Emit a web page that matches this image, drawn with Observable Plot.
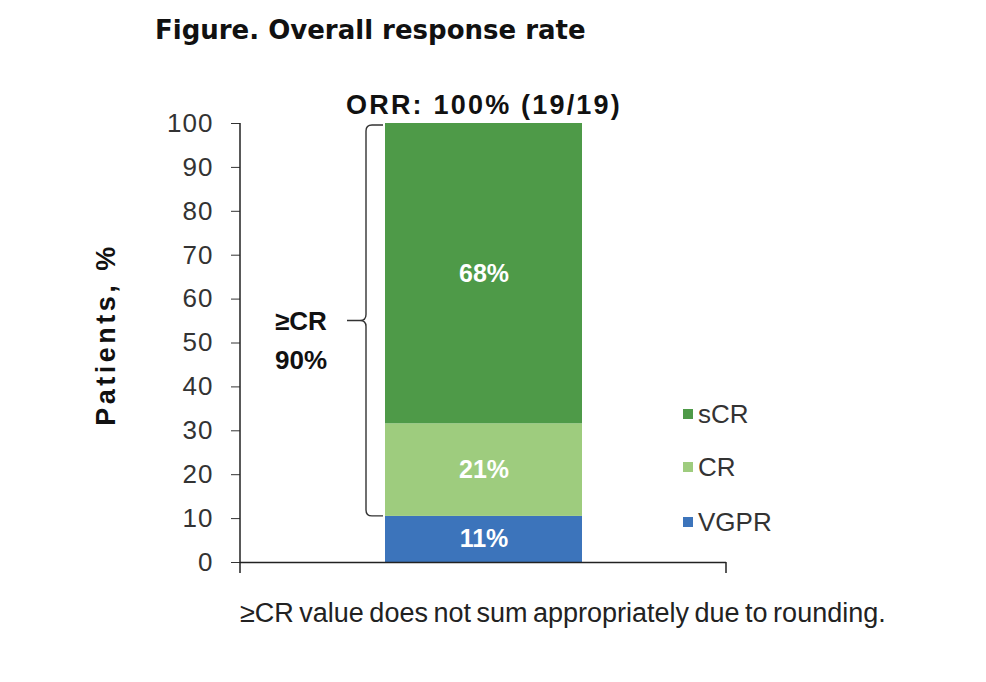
<!DOCTYPE html>
<html>
<head>
<meta charset="utf-8">
<script src="https://cdn.jsdelivr.net/npm/d3@7"></script>
<script src="https://cdn.jsdelivr.net/npm/@observablehq/plot@0.6"></script>
<style>
  html, body { margin: 0; padding: 0; background: #fff; }
  #wrap { position: relative; width: 986px; height: 682px; overflow: hidden; }
  #title { position: absolute; left: 155px; top: 15px; font-family: "DejaVu Sans", Verdana, sans-serif; font-weight: bold; font-size: 26px; letter-spacing: 0px; color: #111; white-space: nowrap; }
  #chart { position: absolute; left: 0; top: 70px; }
  #note { position: absolute; left: 240px; top: 598px; font-family: "Liberation Sans", Arial, sans-serif; font-size: 27px; word-spacing: -2px; color: #222; white-space: nowrap; }
</style>
</head>
<body>
<div id="wrap">
  <div id="title">Figure. Overall response rate</div>
  <div id="chart"></div>
  <div id="note">≥CR value does not sum appropriately due to rounding.</div>
</div>
<script>
// ---- data ----
const group = "All";
const categories = ["VGPR", "CR", "sCR"];
const values = [10.5, 21.1, 68.4];
const labels = ["11%", "21%", "68%"];
const colors = ["#3C74BB", "#9ECC7E", "#4E9A48"];
const yTicks = [0, 10, 20, 30, 40, 50, 60, 70, 80, 90, 100];
const legendOrder = ["sCR", "CR", "VGPR"];
const orrLabel = "ORR: 100% (19/19)";
const bracketLabel = ["≥CR", "90%"];
const bracketFrom = 10.5, bracketTo = 100;

const data = categories.map((c, i) => ({group, category: c, value: values[i], label: labels[i]}));

const W = 986, H = 530, ML = 240, MR = 260, MT = 53, MB = 38;
const FONT = "'Liberation Sans', Arial, sans-serif";

const chart = Plot.plot({
  width: W, height: H,
  marginTop: MT, marginBottom: MB, marginLeft: ML, marginRight: MR,
  x: {domain: [group], padding: 0.4235, axis: null},
  y: {domain: [0, 100]},
  color: {domain: categories, range: colors},
  style: {fontFamily: FONT, color: "#333", background: "white", overflow: "visible"},
  marks: [
    Plot.barY(data, {x: "group", y: "value", fill: "category"}),
    Plot.text(data, Plot.stackY({x: "group", y: "value", text: "label", fill: "white", fontWeight: "bold", fontSize: 25})),
    Plot.axisY({ticks: yTicks, tickSize: 9, tickPadding: 18, label: null, fontSize: 26, stroke: "#333", fill: "#333"}),
    Plot.ruleY([0], {stroke: "#222", strokeWidth: 1.5}),
    Plot.text([orrLabel], {x: () => group, y: () => 100, text: d => d, dy: -18, fontWeight: "bold", fontSize: 27, fill: "#111"})
  ]
});
document.getElementById("chart").appendChild(chart);

const svg = d3.select(chart);
// letter spacing tweaks
svg.selectAll("g[aria-label='y-axis tick label'] text").attr("letter-spacing", 1);
svg.selectAll("g[aria-label='text']").filter((d, i, n) => n[i].textContent === orrLabel).attr("letter-spacing", 2.2);

const ys = chart.scale("y"), xs = chart.scale("x");
const bx = xs.apply(group), bw = xs.bandwidth;
const yv = v => ys.apply(v);

// axis lines
svg.append("line").attr("x1", ML).attr("x2", ML).attr("y1", yv(100)).attr("y2", yv(0) + 11)
  .attr("stroke", "#222").attr("stroke-width", 1.5);
svg.append("line").attr("x1", W - MR).attr("x2", W - MR).attr("y1", yv(0)).attr("y2", yv(0) + 11)
  .attr("stroke", "#222").attr("stroke-width", 1.5);

// curly bracket
const bxL = bx - 2, vx = bx - 19, tipx = bx - 38;
const yt = yv(bracketTo) + 2, yb = yv(bracketFrom), ym = (yt + yb) / 2;
const r = 6;
const path = `M${bxL},${yt} H${vx + r} Q${vx},${yt} ${vx},${yt + r} V${ym - r} Q${vx},${ym} ${vx - r},${ym} H${tipx} M${vx - r},${ym} Q${vx},${ym} ${vx},${ym + r} V${yb - r} Q${vx},${yb} ${vx + r},${yb} H${bxL}`;
svg.append("path").attr("d", path).attr("fill", "none").attr("stroke", "#333").attr("stroke-width", 1.4);
const bl = svg.append("text").attr("font-weight", "bold").attr("font-size", 26).attr("fill", "#111")
  .attr("text-anchor", "middle").attr("font-family", FONT);
bl.append("tspan").attr("x", tipx - 46).attr("y", ym + 10).text(bracketLabel[0]);
bl.append("tspan").attr("x", tipx - 46).attr("y", ym + 49).text(bracketLabel[1]);

// y label
svg.append("text").attr("transform", `translate(115,${(yv(0) + yv(100)) / 2 - 8}) rotate(-90)`)
  .attr("text-anchor", "middle").attr("font-weight", "bold").attr("font-size", 27).attr("letter-spacing", 3.5)
  .attr("fill", "#111").attr("font-family", FONT).text("Patients, %");

// legend
const legY = {sCR: 344, CR: 397, VGPR: 452};
legendOrder.forEach(c => {
  const col = colors[categories.indexOf(c)];
  svg.append("rect").attr("x", 683).attr("y", legY[c] - 5).attr("width", 10).attr("height", 10).attr("fill", col);
  svg.append("text").attr("x", 698).attr("y", legY[c] + 9).attr("font-size", 26).attr("fill", "#333")
    .attr("text-anchor", "start").attr("font-family", FONT).text(c);
});
</script>
</body>
</html>
